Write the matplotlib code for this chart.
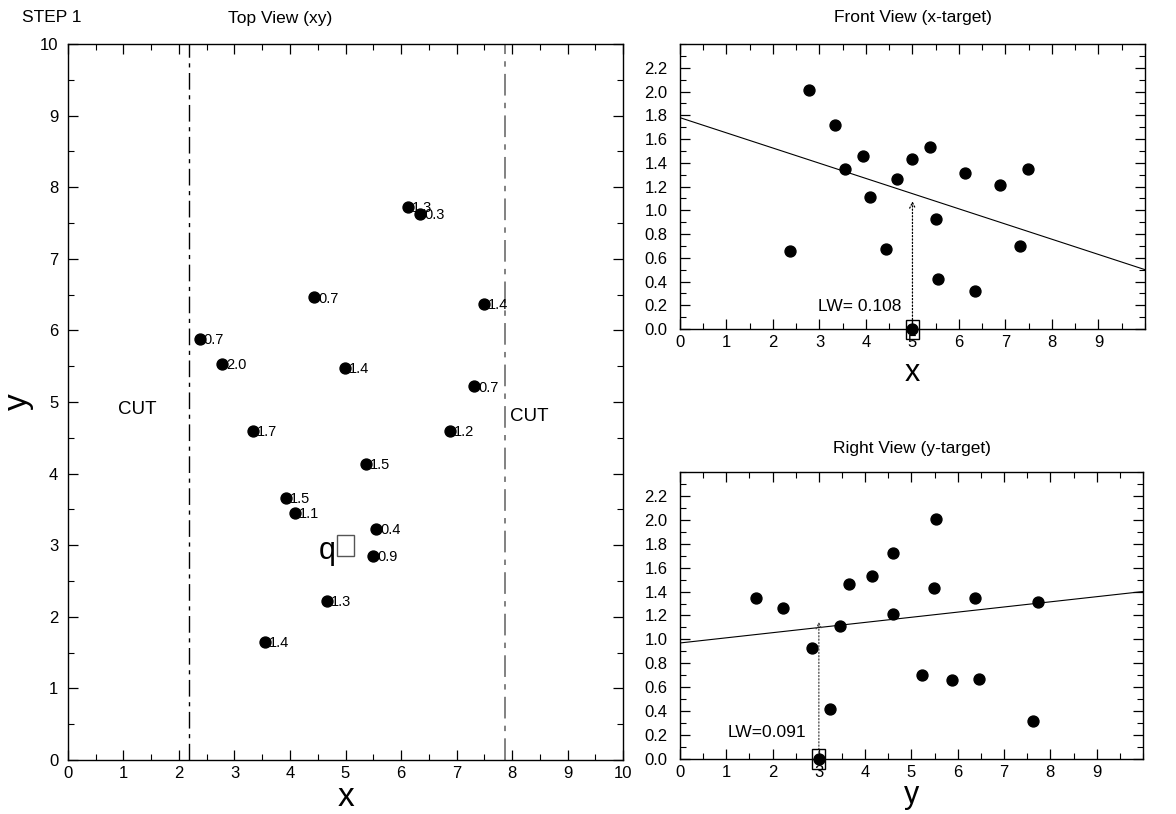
import numpy as np
import matplotlib
matplotlib.use("Agg")
import matplotlib.pyplot as plt
from matplotlib.patches import Rectangle
from matplotlib.ticker import MultipleLocator, FormatStrFormatter

plt.rcParams["font.family"] = ["Liberation Sans", "DejaVu Sans"]

# ─── DATA ─────────────────────────────────────────────────────────────────────
# neighbours of the query point: position (x, y) and target value z
pt_x = [6.12, 6.35, 4.44, 7.49, 2.37, 2.78, 4.99, 7.31, 3.33, 6.88, 5.37, 3.93, 4.09, 5.55, 5.50, 4.67, 3.55]
pt_y = [7.73, 7.63, 6.46, 6.37, 5.88, 5.53, 5.48, 5.22, 4.60, 4.60, 4.14, 3.66, 3.45, 3.23, 2.85, 2.22, 1.65]
pt_z = [1.31, 0.32, 0.67, 1.35, 0.66, 2.01, 1.43, 0.70, 1.72, 1.21, 1.53, 1.46, 1.11, 0.42, 0.93, 1.26, 1.35]
pt_labels = ["1.3", "0.3", "0.7", "1.4", "0.7", "2.0", "1.4", "0.7", "1.7",
             "1.2", "1.5", "1.5", "1.1", "0.4", "0.9", "1.3", "1.4"]

query_x, query_y = 5.0, 3.0
cut_lo, cut_hi = 2.18, 7.88

# fitted lines (endpoints at 0 and 10)
front_fit_x = [0, 10]
front_fit_z = [1.78, 0.50]
front_pred = 1.10
right_fit_y = [0, 10]
right_fit_z = [0.97, 1.40]
right_pred = 1.17
lw_front = "LW= 0.108"
lw_right = "LW=0.091"
# ──────────────────────────────────────────────────────────────────────────────


def style_axes(ax, xmaj, xmin, ymaj, ymin, ypad):
    ax.xaxis.set_major_locator(MultipleLocator(xmaj))
    ax.xaxis.set_minor_locator(MultipleLocator(xmin))
    ax.yaxis.set_major_locator(MultipleLocator(ymaj))
    ax.yaxis.set_minor_locator(MultipleLocator(ymin))
    ax.tick_params(which="both", direction="in", top=True, right=True, labelsize=12)
    ax.tick_params(which="major", length=7.5, width=0.9)
    ax.tick_params(which="minor", length=4, width=0.8)
    ax.tick_params(axis="x", which="major", pad=4)
    ax.tick_params(axis="y", which="major", pad=ypad)
    for s in ax.spines.values():
        s.set_linewidth(1.0)


fig = plt.figure(figsize=(11.76, 8.14), dpi=100)

# ── Top view ──
ax = fig.add_axes([0.0578, 0.0663, 0.472, 0.8796])
ax.set_xlim(0, 10)
ax.set_ylim(0, 10)
style_axes(ax, 1, 0.5, 1, 0.5, 7)
ax.scatter(pt_x, pt_y, s=62, color="black", zorder=3)
for px, py, lab in zip(pt_x, pt_y, pt_labels):
    ax.annotate(lab, (px, py), xytext=(3, -1), textcoords="offset points",
                fontsize=10.5, va="center", ha="left")
ax.add_patch(Rectangle((query_x - 0.145, query_y - 0.145), 0.29, 0.29,
                       fill=False, edgecolor="#555555", linewidth=1.0))
ax.text(query_x - 0.18, query_y - 0.08, "q", fontsize=22, ha="right", va="center")
ax.axvline(cut_lo, color="black", linewidth=1.0, dashes=(12, 4, 3, 4))
ax.axvline(cut_hi, color="#777777", linewidth=1.3, dashes=(12, 4, 3, 4))
ax.text(0.9, 4.9, "CUT", fontsize=13.5, va="center")
ax.text(7.96, 4.8, "CUT", fontsize=13.5, va="center")
ax.set_xlabel("x", fontsize=24, labelpad=1)
ax.set_ylabel("y", fontsize=24, labelpad=4)
fig.text(22 / 1176, 1 - 18 / 814, "STEP 1", fontsize=12.5, va="center", ha="left")
fig.text(280 / 1176, 1 - 18 / 814, "Top View (xy)", fontsize=12.5, va="center", ha="center")

# ── Front view ──
ax2 = fig.add_axes([0.5782, 0.5958, 0.3954, 0.3501])
ax2.set_xlim(0, 10)
ax2.set_ylim(0, 2.4)
style_axes(ax2, 1, 0.5, 0.2, 0.1, 9)
ax2.set_xticks(np.arange(0, 10, 1))
ax2.set_yticks(np.arange(0, 2.3, 0.2))
ax2.yaxis.set_major_formatter(FormatStrFormatter("%.1f"))
ax2.scatter(pt_x, pt_z, s=62, color="black", zorder=3)
ax2.plot(front_fit_x, front_fit_z, color="black", linewidth=0.8)
ax2.scatter([query_x], [0], s=62, color="black", zorder=4, clip_on=False)
ax2.add_patch(Rectangle((query_x - 0.14, -0.08), 0.28, 0.16, fill=False,
                        edgecolor="black", linewidth=1.0, clip_on=False, zorder=5))
ax2.annotate("", xy=(query_x, front_pred), xytext=(query_x, 0),
             arrowprops=dict(arrowstyle="->", linestyle=":", linewidth=0.9, color="black"))
ax2.text(4.77, 0.19, lw_front, fontsize=12.5, ha="right", va="center")
ax2.set_xlabel("x", fontsize=22, labelpad=6)
ax2.set_title("Front View (x-target)", fontsize=12.5, pad=16)

# ── Right view ──
ax3 = fig.add_axes([0.5782, 0.0676, 0.3937, 0.3526])
ax3.set_xlim(0, 10)
ax3.set_ylim(0, 2.4)
style_axes(ax3, 1, 0.5, 0.2, 0.1, 9)
ax3.set_xticks(np.arange(0, 10, 1))
ax3.set_yticks(np.arange(0, 2.3, 0.2))
ax3.yaxis.set_major_formatter(FormatStrFormatter("%.1f"))
ax3.scatter(pt_y, pt_z, s=62, color="black", zorder=3)
ax3.plot(right_fit_y, right_fit_z, color="black", linewidth=0.8)
ax3.scatter([query_y], [0], s=62, color="black", zorder=4, clip_on=False)
ax3.add_patch(Rectangle((query_y - 0.14, -0.08), 0.28, 0.16, fill=False,
                        edgecolor="black", linewidth=1.0, clip_on=False, zorder=5))
ax3.annotate("", xy=(query_y, right_pred), xytext=(query_y, 0),
             arrowprops=dict(arrowstyle="->", linestyle=":", linewidth=0.9, color="#444444"))
ax3.text(2.73, 0.22, lw_right, fontsize=12.5, ha="right", va="center")
ax3.set_xlabel("y", fontsize=22, labelpad=0)
ax3.set_title("Right View (y-target)", fontsize=12.5, pad=14)

fig.savefig("out.png", dpi=100)
